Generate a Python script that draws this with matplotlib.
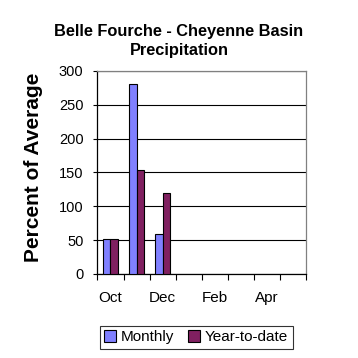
import numpy as np
import matplotlib
matplotlib.use('Agg')
import matplotlib.pyplot as plt

plt.rcParams['font.family'] = ['Liberation Sans', 'DejaVu Sans']

# Data
months = ['Oct', 'Nov', 'Dec', 'Jan', 'Feb', 'Mar', 'Apr', 'May']
monthly = [51, 280, 59]
year_to_date = [51, 153, 119]
yticks = [0, 50, 100, 150, 200, 250, 300]

fig = plt.figure(figsize=(3.58, 3.58), dpi=100)
ax = fig.add_axes([0.272, 0.235, 0.584, 0.567])

w = 0.29
x = np.arange(len(monthly)) + 0.5
ax.bar(x - w / 2, monthly, w, color='#8080ff', edgecolor='black', lw=0.8,
       label='Monthly', zorder=3)
ax.bar(x + w / 2, year_to_date, w, color='#802060', edgecolor='black', lw=0.8,
       label='Year-to-date', zorder=3)

ax.set_xlim(0, len(months))
ax.set_ylim(0, 300)
ax.set_yticks(yticks)
ax.set_yticklabels([str(v) for v in yticks], fontsize=10.5)
ax.yaxis.grid(True, color='black', lw=0.8, zorder=0)

# ticks at category boundaries, labels at every other category centre
ax.set_xticks(np.arange(len(months) + 1))
ax.set_xticklabels([])
ax.set_xticks(np.arange(len(months)) + 0.5, minor=True)
ax.set_xticklabels([m if i % 2 == 0 else '' for i, m in enumerate(months)],
                   minor=True, fontsize=11)
ax.tick_params(axis='x', which='major', length=4, width=0.8, direction='out')
ax.tick_params(axis='x', which='minor', length=0, pad=12)
ax.tick_params(axis='y', length=3, width=0.8, pad=7)

for s in ['top', 'right']:
    ax.spines[s].set_color('#808080')
for s in ['left', 'bottom']:
    ax.spines[s].set_color('black')
for s in ax.spines.values():
    s.set_linewidth(0.9)

ax.set_ylabel('Percent of Average', fontsize=15, fontweight='bold')
ax.yaxis.set_label_coords(-0.26, 0.525)

fig.text(0.50, 0.885, 'Belle Fourche - Cheyenne Basin\nPrecipitation',
         ha='center', va='center', fontsize=11.8, fontweight='bold',
         linespacing=1.35)

leg = fig.legend(loc='center', bbox_to_anchor=(0.548, 0.058), ncol=2,
                 fontsize=11, frameon=True, fancybox=False, shadow=False,
                 handlelength=0.8, handleheight=0.8, handletextpad=0.3,
                 columnspacing=0.9, borderpad=0.3, borderaxespad=0)
leg.get_frame().set_edgecolor('black')
leg.get_frame().set_linewidth(0.8)

plt.savefig('out.png', dpi=100)
